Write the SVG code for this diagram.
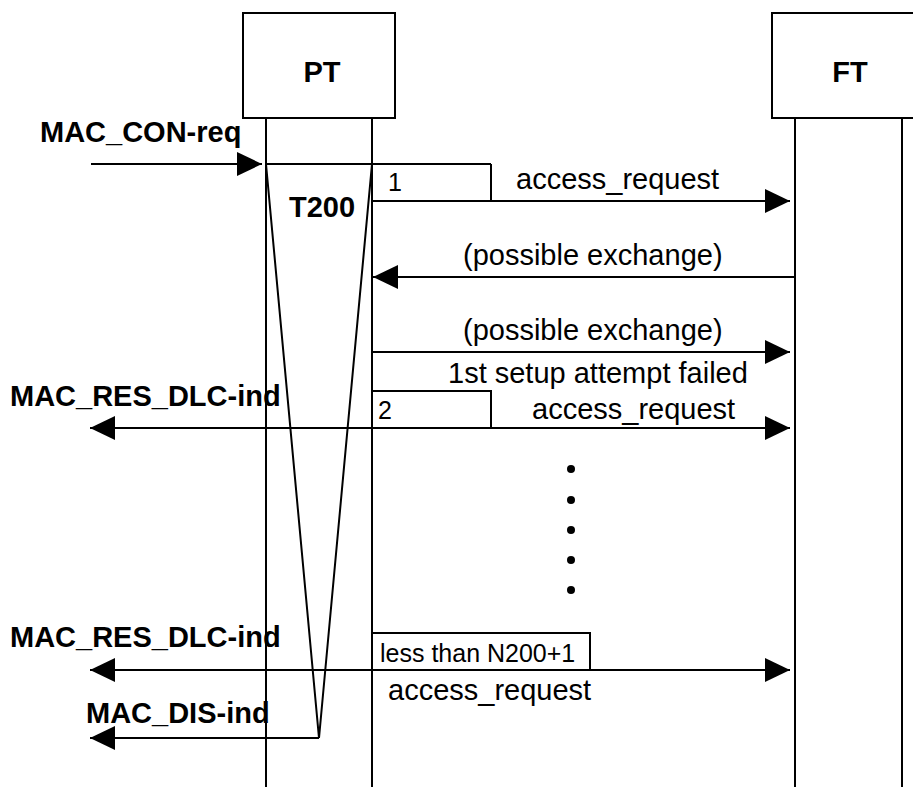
<svg xmlns="http://www.w3.org/2000/svg" width="913" height="787" viewBox="0 0 913 787">
<style>
.ln{stroke:#000;stroke-width:2;fill:none}
.box{stroke:#000;stroke-width:2;fill:#fff}
.t{font-family:"Liberation Sans",Arial,sans-serif;font-size:29px;fill:#000}
.b{font-weight:bold}
.s{font-size:25px}
.arr{marker-end:url(#ah)}
.arr2{marker-end:url(#ah);marker-start:url(#ah)}
</style>
<defs>
<marker id="ah" markerUnits="userSpaceOnUse" markerWidth="26" markerHeight="26" refX="25" refY="12" orient="auto-start-reverse" viewBox="0 0 26 24">
<path d="M0,0 L25,12 L0,24 Z" fill="#000"/>
</marker>
</defs>
<rect width="913" height="787" fill="#fff"/>
<g id="PT">
<rect class="box" x="243" y="13" width="152" height="105"/>
<text class="t b" x="322" y="82" text-anchor="middle">PT</text>
<line class="ln" x1="266" y1="118" x2="266" y2="787"/>
<line class="ln" x1="372" y1="118" x2="372" y2="787"/>
</g>
<g id="FT">
<rect class="box" x="772" y="13" width="152" height="105"/>
<text class="t b" x="850" y="82" text-anchor="middle">FT</text>
<line class="ln" x1="795" y1="118" x2="795" y2="787"/>
<line class="ln" x1="902" y1="118" x2="902" y2="787"/>
</g>
<g id="T200">
<polyline class="ln" points="266,164 319,738 372,164"/>
<text class="t b" x="289" y="217">T200</text>
</g>
<g id="connectors">
<line class="ln arr" x1="91" y1="164" x2="262" y2="164"/>
<line class="ln" x1="266" y1="164" x2="491" y2="164"/>
<line class="ln" x1="491" y1="164" x2="491" y2="201"/>
<line class="ln arr" x1="372" y1="201" x2="790" y2="201"/>
<line class="ln arr" x1="795" y1="277" x2="373" y2="277"/>
<line class="ln arr" x1="372" y1="352" x2="790" y2="352"/>
<polyline class="ln" points="372,391 491,391 491,428"/>
<line class="ln arr2" x1="90" y1="428" x2="790" y2="428"/>
<polyline class="ln" points="372,633 590,633 590,670"/>
<line class="ln arr2" x1="90" y1="670" x2="790" y2="670"/>
<line class="ln arr" x1="319" y1="738" x2="90" y2="738"/>
</g>
<g id="labels">
<text class="t b" x="40" y="142">MAC_CON-req</text>
<text class="t s" x="388" y="191">1</text>
<text class="t" x="516" y="189">access_request</text>
<text class="t" x="463" y="265">(possible exchange)</text>
<text class="t" x="463" y="340">(possible exchange)</text>
<text class="t" x="448" y="383">1st setup attempt failed</text>
<text class="t b" x="10" y="406">MAC_RES_DLC-ind</text>
<text class="t s" x="378" y="419">2</text>
<text class="t" x="532" y="419">access_request</text>
<text class="t b" x="10" y="647">MAC_RES_DLC-ind</text>
<text class="t s" x="380" y="662">less than N200+1</text>
<text class="t" x="388" y="700">access_request</text>
<text class="t b" x="86" y="723">MAC_DIS-ind</text>
</g>
<g id="dots" fill="#000">
<circle cx="571" cy="469" r="4"/>
<circle cx="571" cy="500" r="4"/>
<circle cx="571" cy="530" r="4"/>
<circle cx="571" cy="560" r="4"/>
<circle cx="571" cy="590" r="4"/>
</g>
</svg>
